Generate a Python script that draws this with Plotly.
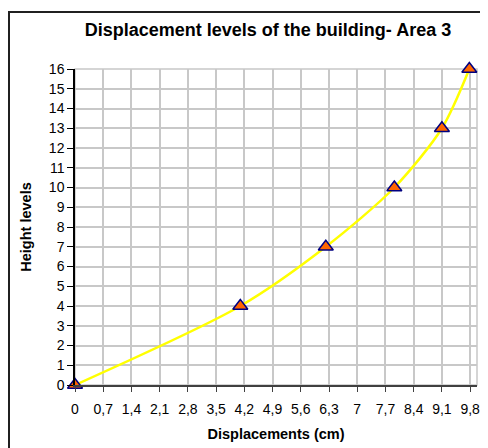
import plotly.graph_objects as go

displacements = [0, 4.1, 6.22, 7.92, 9.1, 9.78]
height_levels = [0, 4, 7, 10, 13, 16]
x_tick_vals = [0, 0.7, 1.4, 2.1, 2.8, 3.5, 4.2, 4.9, 5.6, 6.3, 7, 7.7, 8.4, 9.1, 9.8]
x_tick_text = ["0", "0,7", "1,4", "2,1", "2,8", "3,5", "4,2", "4,9", "5,6", "6,3", "7", "7,7", "8,4", "9,1", "9,8"]
y_tick_vals = list(range(0, 17))

FONT = "Liberation Sans, Arial, sans-serif"

fig = go.Figure()
fig.add_trace(go.Scatter(
    x=displacements, y=height_levels,
    mode="lines+markers",
    line=dict(color="#FFFF00", width=2.5, shape="spline", smoothing=0.8),
    marker=dict(symbol="triangle-up", size=13, color="#FF6600",
                line=dict(color="#000080", width=1.5)),
    cliponaxis=False,
    showlegend=False,
))

# page body has an 8px default margin, so figure coords = window coords - 8
OFF = 8
W, H = 488 - OFF, 448 - OFF
L, T = 75 - OFF, 69 - OFF
R, B = 11, 63
pw, ph = W - L - R, H - T - B

fig.update_layout(
    width=W, height=H,
    margin=dict(l=L, r=R, t=T, b=B, autoexpand=False),
    paper_bgcolor="white", plot_bgcolor="white",
    font=dict(family=FONT, size=14, color="black"),
    title=dict(text="<b>Displacement levels of the building- Area 3</b>",
               x=(268 - OFF) / W, xanchor="center", y=1 - (30 - OFF) / H, yanchor="middle",
               font=dict(family=FONT, size=18, color="black")),
    xaxis=dict(range=[0, 9.97], tickvals=x_tick_vals, ticktext=x_tick_text,
               showgrid=True, gridcolor="#C8C8C8", gridwidth=1.5,
               showline=True, linecolor="#404040", linewidth=1.5,
               ticks="outside", ticklen=5, tickcolor="#404040",
               zeroline=False, tickfont=dict(size=14), ticklabelstandoff=5,
               automargin=False,
               title=dict(text="<b>Displacements (cm)</b>", font=dict(size=14.5), standoff=13)),
    yaxis=dict(range=[0, 16], tickvals=y_tick_vals,
               showgrid=True, gridcolor="#C8C8C8", gridwidth=1.5,
               showline=True, linecolor="black", linewidth=1.5,
               ticks="outside", ticklen=6, tickcolor="black",
               zeroline=False, tickfont=dict(size=14), automargin=False,
               title=dict(text="<b>Height levels</b>", font=dict(size=14.5), standoff=14)),
)

# plot area border (top/right in grid colour)
fig.add_shape(type="rect", xref="paper", yref="paper", x0=0, x1=1, y0=0, y1=1,
              line=dict(color="#C8C8C8", width=1.5), layer="below")
# outer chart border
fig.add_shape(type="rect", xref="paper", yref="paper",
              x0=(1 - L) / pw, x1=(W + 5 - L) / pw,
              y0=(T + ph - (H + 5)) / ph, y1=(T + ph - 4) / ph,
              line=dict(color="#202020", width=2))

fig.write_html("out.html")
